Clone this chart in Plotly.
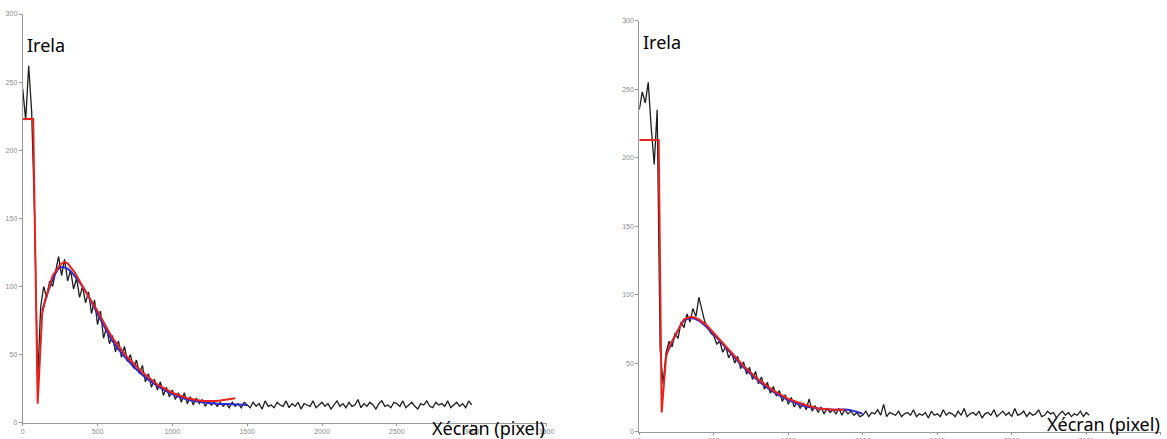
import numpy as np
import plotly.graph_objects as go

STEP = 20  # x spacing of the sampled profile (pixels)

# ---------- left panel ----------
left_black = [245, 222, 262, 228, 150, 30, 85, 100, 92, 104, 100, 112, 122, 108, 120, 104,
              112, 98, 106, 92, 100, 88, 96, 80, 90, 72, 82, 62, 70, 58, 64, 52, 60, 48, 56,
              45, 50, 40, 46, 36, 42, 30, 36, 26, 32, 24, 30, 20, 26, 19, 24, 17, 22, 15, 22,
              14, 19, 13, 18, 14, 17, 12, 16, 13, 15, 12, 15, 12, 14, 11, 15, 12, 14, 11, 15,
              13, 11, 15, 12, 14, 10, 16, 12, 13, 11, 15, 13, 12, 16, 11, 14, 12, 15, 10, 14,
              13, 12, 16, 11, 13, 15, 12, 14, 10, 13, 16, 12, 14, 11, 15, 12, 13, 17, 11, 14,
              12, 15, 13, 10, 14, 16, 12, 13, 11, 15, 14, 12, 16, 11, 13, 15, 12, 10, 14, 13,
              16, 12, 11, 15, 13, 14, 12, 16, 11, 13, 15, 12, 14, 11, 16, 13]
left_red_x = [0, 70, 100, 130, 150, 200, 250, 280, 300, 350, 400, 500, 600, 700, 800, 900,
              1000, 1100, 1200, 1300, 1420]
left_red_y = [223, 223, 14, 80, 90, 108, 116, 118, 117, 110, 100, 82, 62, 48, 37, 28,
              22, 18, 16, 16, 18]
left_blue_x = [130, 200, 250, 300, 400, 500, 600, 700, 800, 900, 1000, 1100, 1200, 1300,
               1400, 1500]
left_blue_y = [82, 105, 114, 113, 100, 80, 60, 46, 35, 27, 21, 17, 15, 14, 13.5, 13]

# ---------- right panel ----------
right_black = [235, 248, 240, 255, 222, 195, 235, 60, 35, 58, 66, 62, 72, 68, 80, 76, 86,
               80, 90, 84, 98, 88, 80, 76, 72, 70, 64, 66, 58, 62, 54, 58, 50, 55, 46, 51,
               42, 47, 38, 44, 35, 40, 31, 36, 28, 33, 26, 30, 22, 27, 20, 25, 18, 22, 17,
               21, 16, 24, 15, 19, 14, 18, 13, 17, 14, 16, 13, 17, 12, 16, 13, 15, 12, 14,
               11, 12, 15, 11, 14, 13, 16, 12, 20, 11, 14, 13, 12, 15, 11, 13, 14, 12, 16,
               11, 13, 12, 14, 10, 15, 12, 13, 11, 16, 12, 14, 13, 11, 15, 12, 17, 11, 13,
               14, 12, 15, 10, 13, 14, 12, 16, 11, 13, 15, 12, 14, 11, 17, 12, 13, 15, 11,
               14, 12, 13, 16, 11, 12, 15, 13, 14, 10, 13, 15, 12, 14, 11, 13, 12, 15, 11,
               14, 12]
right_red_x = [0, 130, 150, 180, 200, 250, 300, 350, 400, 450, 500, 600, 700, 800, 900,
               1000, 1100, 1200, 1300, 1380]
right_red_y = [213, 213, 14, 55, 62, 72, 82, 84, 82, 78, 72, 60, 48, 38, 30, 24, 20, 17,
               16, 16]
right_blue_x = [180, 250, 300, 350, 400, 500, 600, 700, 800, 900, 1000, 1100, 1200, 1300,
                1400, 1500]
right_blue_y = [56, 72, 81, 83, 81, 71, 59, 47, 37, 29, 23, 19, 17, 16, 16, 13]

X_TICKS = [0, 500, 1000, 1500, 2000, 2500, 3000, 3500]
Y_TICKS = [0, 50, 100, 150, 200, 250, 300]

BLACK = "#1e1e1e"
RED = "#e8231c"
BLUE = "#2b2bd0"
AXIS = "#9a9a9a"

fig = go.Figure()


def add_panel(black, rx, ry, bx, by, xa, ya):
    bx_all = list(np.arange(len(black)) * STEP)
    fig.add_trace(go.Scatter(x=bx_all, y=black, mode="lines",
                             line=dict(color=BLACK, width=1.3), xaxis=xa, yaxis=ya,
                             showlegend=False, hoverinfo="skip"))
    fig.add_trace(go.Scatter(x=bx, y=by, mode="lines", line_shape="spline",
                             line=dict(color=BLUE, width=2), xaxis=xa, yaxis=ya,
                             showlegend=False))
    fig.add_trace(go.Scatter(x=rx, y=ry, mode="lines",
                             line=dict(color=RED, width=2), xaxis=xa, yaxis=ya,
                             showlegend=False))


add_panel(left_black, left_red_x, left_red_y, left_blue_x, left_blue_y, "x", "y")
add_panel(right_black, right_red_x, right_red_y, right_blue_x, right_blue_y, "x2", "y2")

W, H = 1167, 439
axis_common = dict(showgrid=False, zeroline=False, showline=True, linecolor=AXIS,
                   linewidth=1, ticks="outside", tickcolor=AXIS,
                   automargin=False,
                   tickfont=dict(size=7, color="#8a8a8a", family="Liberation Sans"))

fig.update_layout(
    width=W, height=H,
    margin=dict(l=0, r=0, t=0, b=0),
    paper_bgcolor="white", plot_bgcolor="white",
    xaxis=dict(domain=[22.7 / W, 546.5 / W], range=[0, 3500], tickvals=X_TICKS,
               anchor="y", ticklen=2, **axis_common),
    yaxis=dict(domain=[(H - 422.7) / H, (H - 14) / H], range=[0, 300], tickvals=Y_TICKS,
               anchor="x", ticklen=3, **axis_common),
    xaxis2=dict(domain=[639.3 / W, 1160.8 / W], range=[0, 3500], tickvals=X_TICKS,
                anchor="y2", ticklen=2, **axis_common),
    yaxis2=dict(domain=[(H - 431.7) / H, (H - 20.7) / H], range=[0, 300], tickvals=Y_TICKS,
                anchor="x2", ticklen=3, **axis_common),
)

label_font = dict(size=18, color="black", family="Noto Sans")
labels = [
    ("Irela", 25, 45),
    ("Xécran (pixel)", 430, 428),
    ("Irela", 641, 42),
    ("Xécran (pixel)", 1045, 424),
]
for txt, px, py in labels:
    fig.add_annotation(text=txt, x=px / W, y=(H - py) / H, xref="paper", yref="paper",
                       xanchor="left", yanchor="middle", showarrow=False, font=label_font)

fig.write_html(
    "out.html",
    config={"displayModeBar": False},
    post_script="document.body.style.margin='0';document.body.style.overflow='hidden';",
)
